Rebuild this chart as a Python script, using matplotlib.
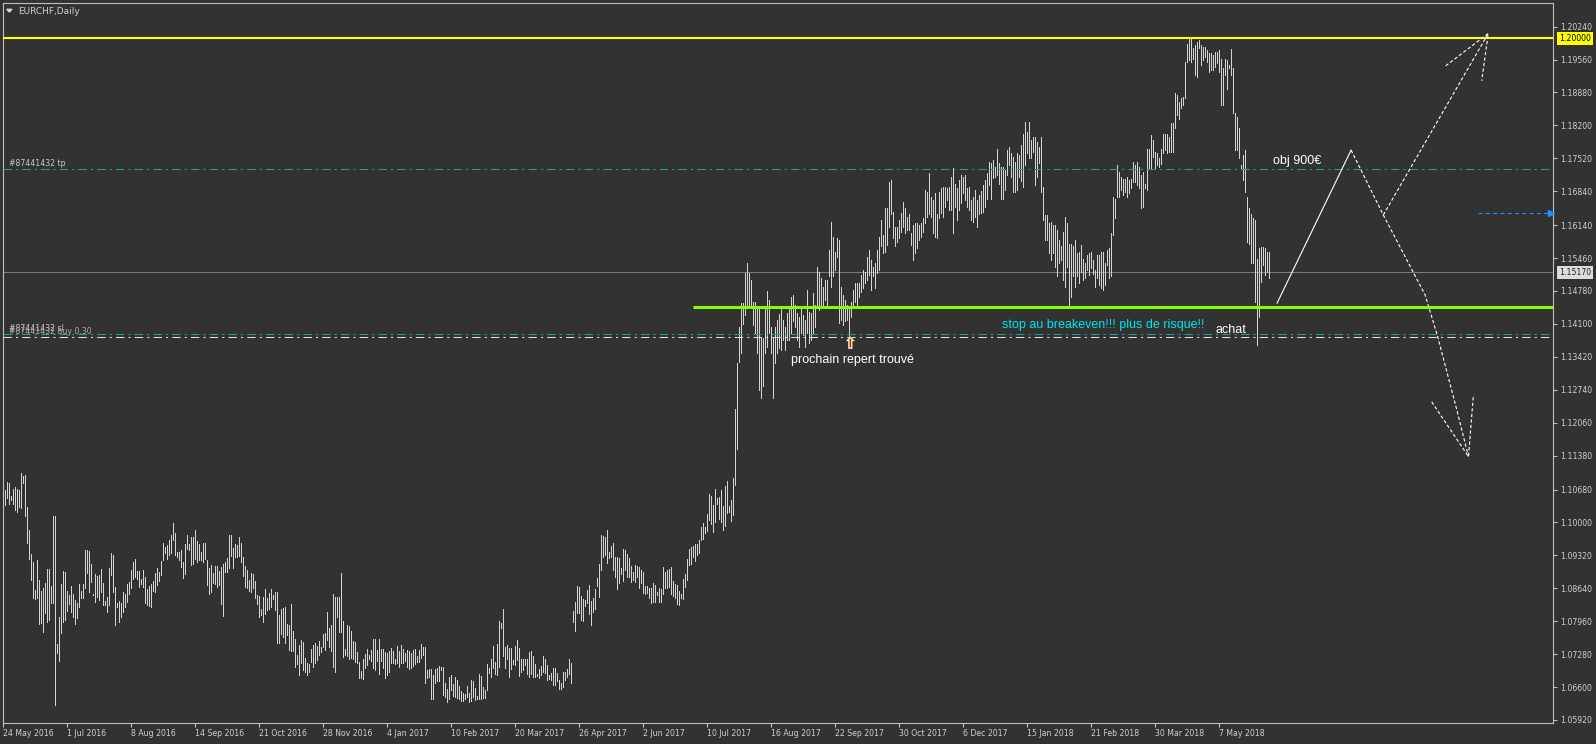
import numpy as np
import matplotlib
matplotlib.use("Agg")
import matplotlib.pyplot as plt
from matplotlib import transforms
from matplotlib.patches import Polygon
import matplotlib.patheffects as pe

plt.rcParams['font.family'] = ['DejaVu Sans']

# EURCHF daily bars, stored as (price - 1) * 10000
high_2016 = [1112,1067,1084,1081,1054,1070,1074,1070,1067,1103,
             1096,1098,1031,984,935,919,860,922,882,858,
             865,874,904,904,869,1013,1013,749,805,873,
             900,897,858,850,869,853,840,833,873,859,
             873,943,943,941,915,853,893,889,891,904,
             874,838,847,906,936,933,867,834,838,833,
             857,853,873,877,902,918,924,900,900,884,
             902,888,862,869,873,880,895,906,898,921,
             957,950,953,964,975,998,979,939,939,944,
             919,955,974,955,970,969,984,962,955,939,
             958,958,922,906,912,896,910,910,900,908,
             914,919,927,974,974,948,955,953,970,958,
             929,911,902,882,895,893,879,851,848,822,
             847,862,843,855,862,851,857,857,809,821,
             824,826,790,788,831,776,759,727,747,757,
             754,721,709,708,738,747,752,745,755,742,
             769,772,816,781,789,852,847,847,847,895,
             796,738,788,786,776,755,754,733,712,694,
             719,728,738,726,736,759,759,736,759,738,
             738,733,731,735,740,735,717,745,735]
low_2016 = [1056,1036,1050,1039,1046,1039,1025,1022,1032,1029,
            1081,1013,958,924,882,843,841,843,790,792,
            774,812,795,798,834,833,622,730,714,771,
            795,798,818,831,816,805,791,802,826,844,
            844,864,896,857,878,850,836,847,840,857,
            829,829,816,829,891,857,788,825,794,804,
            816,826,836,852,864,884,888,884,867,873,
            867,833,829,827,825,859,857,871,880,891,
            922,936,924,933,936,964,933,929,922,907,
            886,893,946,943,912,914,925,919,922,922,
            919,924,871,853,857,875,873,867,871,831,
            807,897,898,906,930,906,929,929,930,919,
            889,867,865,859,857,864,843,831,805,809,
            795,811,820,822,826,841,819,752,752,769,
            764,752,767,736,735,735,702,707,685,710,
            695,692,685,692,712,702,710,716,726,733,
            743,736,757,743,735,702,692,805,774,774,
            723,726,724,719,721,717,712,710,678,678,
            676,699,705,719,714,699,695,714,686,714,
            699,678,685,692,709,710,708,709,702]

high_2017a = [747,738,730,737,734,731,737,739,724,737,
              749,743,743,695,697,697,685,697,700,704,
              701,701,668,656,681,685,666,681,674,663,
              652,647,646,662,647,674,673,659,641,687,
              683,661,654,708,699,719,745,712,749,796,
              793,822,743,747,740,740,716,745,758,740,
              719,719,719,719,732,735,724,708,688,697,
              704,724,718,705,685,690,699,699,690,674,
              668,691,691,697,718,710,817,835,869,867,
              848,842,840,860,871,838,843,862,886,915,
              975,973,970,984,939,951,957,929,928,926,
              906,946,943,934,926,910,898,913,910,908,
              902,897,869,869,864,864,874,871,857,864,
              862,907,898,902,904,907,879,872,871,858,
              853,884,893,924,946,950,952,955,955,964,
              990,998,990,1017,1059,1054,1036,1070,1050,1053,
              1068,1034,1075,1085,1034,1046,1091,1235,1330]
low_2017a = [709,710,714,702,697,700,704,708,712,712,
             721,726,668,678,681,635,635,668,673,673,
             695,644,640,630,635,653,642,639,637,635,
             632,632,636,640,630,632,640,633,635,635,
             635,637,637,653,690,681,699,686,685,702,
             783,724,699,719,681,697,708,706,716,683,
             692,695,706,688,681,688,681,680,683,678,
             685,692,690,674,676,674,664,664,672,657,
             657,661,674,680,688,669,795,776,812,814,
             798,797,828,833,811,788,816,822,869,847,
             902,928,933,917,926,928,902,888,862,874,
             893,880,902,888,888,876,882,878,888,865,
             874,855,853,855,843,834,835,836,850,836,
             836,852,864,864,867,853,849,843,831,829,
             843,842,867,881,912,915,929,921,933,936,
             964,965,979,983,1005,996,981,1001,1039,1008,
             1000,984,992,1019,1021,1003,1015,1077,1151]

high_2017b = [1404,1453,1453,1515,1535,1515,1501,1456,1456,1442,
              1446,1384,1380,1446,1477,1459,1404,1380,1404,1418,
              1430,1446,1418,1404,1432,1442,1466,1470,1449,1432,
              1425,1446,1428,1418,1480,1435,1432,1473,1449,1528,
              1518,1505,1487,1501,1501,1563,1621,1590,1559,1587,
              1583,1487,1470,1459,1449,1446,1456,1480,1494,1494,
              1494,1510,1521,1518,1549,1563,1542,1528,1535,1563,
              1590,1625,1594,1649,1649,1704,1707,1642,1611,1611,
              1625,1640,1662,1649,1631,1638,1597,1614,1618,1618,
              1614,1618,1628,1687,1683,1721,1673,1666,1680,1638,
              1683,1690,1693,1693,1690,1693,1714,1731,1700,1690,
              1707,1717,1714,1717,1690,1693,1666,1673,1687,1666,
              1676,1685,1697,1707,1721,1745,1742,1748,1735,1772,
              1742,1735,1735,1728,1769,1776,1762,1755,1745,1762,
              1759,1780,1803,1828,1807,1828,1790,1797,1797,1786,
              1776,1797,1693,1635,1635,1618,1621,1614,1614,1604,
              1583,1570,1600,1631,1618,1576,1576,1570,1583,1556,
              1559]
low_2017b = [1332,1349,1410,1428,1446,1446,1449,1408,1391,1349,
             1274,1257,1281,1349,1363,1391,1349,1256,1329,1349,
             1360,1356,1377,1356,1377,1377,1391,1415,1404,1377,
             1363,1391,1387,1363,1391,1370,1377,1391,1404,1446,
             1439,1450,1446,1459,1446,1508,1487,1508,1521,1549,
             1411,1418,1408,1415,1418,1384,1425,1446,1456,1446,
             1466,1475,1484,1494,1501,1511,1480,1508,1484,1515,
             1521,1570,1556,1559,1573,1611,1638,1587,1570,1580,
             1587,1600,1611,1597,1604,1604,1573,1542,1556,1566,
             1583,1590,1600,1618,1631,1638,1631,1597,1590,1587,
             1628,1640,1631,1652,1666,1645,1645,1597,1652,1625,
             1645,1659,1680,1666,1652,1645,1625,1621,1631,1611,
             1638,1640,1642,1652,1669,1697,1669,1711,1714,1717,
             1700,1669,1669,1687,1717,1738,1714,1683,1683,1687,
             1714,1705,1693,1738,1762,1752,1752,1766,1697,1714,
             1742,1683,1625,1583,1583,1556,1542,1556,1528,1508,
             1535,1542,1500,1487,1528,1446,1466,1508,1487,1508,
             1494]

high_2018 = [1573,1545,1535,1552,1556,1559,1542,1521,1552,1552,
             1559,1559,1535,1563,1566,1597,1673,1669,1738,1724,
             1714,1710,1710,1714,1707,1710,1745,1738,1745,1735,
             1717,1724,1700,1772,1772,1800,1790,1766,1762,1752,
             1772,1803,1803,1803,1796,1824,1824,1886,1883,1869,
             1876,1879,1951,1989,1999,2003,1979,1986,1993,1996,
             1986,1982,1982,1975,1969,1969,1965,1972,1972,1975,
             1958,1938,1958,1955,1944,1977,1938,1845,1838,1814,
             1738,1759,1769,1673,1649,1638,1628,1624,1545,1566,
             1569,1569,1566,1559,1559]
low_2018 = [1518,1501,1504,1521,1511,1525,1514,1487,1504,1490,
            1484,1480,1490,1532,1504,1508,1594,1628,1673,1673,
            1686,1676,1683,1673,1680,1690,1704,1704,1697,1690,
            1649,1652,1690,1686,1731,1731,1755,1731,1738,1735,
            1741,1762,1769,1762,1766,1766,1766,1814,1841,1834,
            1855,1862,1876,1951,1955,1951,1958,1924,1920,1979,
            1944,1955,1962,1951,1931,1934,1934,1941,1948,1931,
            1862,1862,1924,1896,1938,1924,1845,1769,1769,1752,
            1731,1707,1683,1580,1576,1535,1535,1456,1366,1425,
            1497,1532,1511,1518,1504]

# time scale labels (bar index -> date)
date_ticks = [0, 32, 64, 96, 128, 160, 192, 224, 256, 288,
              320, 352, 384, 416, 448, 480, 512, 544, 576, 608]
date_labels = ['24 May 2016', '1 Jul 2016', '8 Aug 2016', '14 Sep 2016', '21 Oct 2016',
               '28 Nov 2016', '4 Jan 2017', '10 Feb 2017', '20 Mar 2017', '26 Apr 2017',
               '2 Jun 2017', '10 Jul 2017', '16 Aug 2017', '22 Sep 2017', '30 Oct 2017',
               '6 Dec 2017', '15 Jan 2018', '21 Feb 2018', '30 Mar 2018', '7 May 2018']
price_ticks = [1.20240, 1.19560, 1.18880, 1.18200, 1.17520, 1.16840, 1.16140, 1.15460,
               1.14780, 1.14100, 1.13420, 1.12740, 1.12060, 1.11380, 1.10680, 1.10000,
               1.09320, 1.08640, 1.07960, 1.07280, 1.06600, 1.05920]

# chart objects
resistance = 1.20000
last_price = 1.15170
tp_level = 1.1729
sl_level = 1.1389
buy_level = 1.1383
breakeven_level = 1.14456
breakeven_from = 345
alert_level = 1.1640
alert_from, alert_to = 737.4, 773.9

# hand drawn trend lines: (bar, price)
up_leg = [(636.9, 1.1453), (673.9, 1.1769)]
down_leg = [(673.9, 1.1769), (690.0, 1.1635), (710.9, 1.1470), (717.1, 1.1385),
            (726.4, 1.1238), (732.6, 1.1136)]
up_branch = [(690.0, 1.1635), (742.5, 1.2010)]
up_head = [(721.2, 1.1943), (742.5, 1.2010), (739.2, 1.1912)]
down_head = [(714.2, 1.1249), (732.6, 1.1136), (735.0, 1.1261)]

highs = 1 + np.array(high_2016 + high_2017a + high_2017b + high_2018) / 1e4
lows = 1 + np.array(low_2016 + low_2017a + low_2017b + low_2018) / 1e4
n = min(len(highs), len(lows))
highs, lows = highs[:n], lows[:n]
bars = np.arange(n)

bg = '#323232'
fg = '#c8c8c8'
teal = '#2a9a9a'
W, H = 1596, 744

fig = plt.figure(figsize=(W / 100, H / 100), dpi=100, facecolor=bg)
ax = fig.add_axes([2.7 / W, 1 - 723 / H, (1553 - 2.7) / W, (723 - 2.7) / H])
ax.set_facecolor(bg)
ax.set_xlim(-0.3, 774.85)
ax.set_ylim(1.05858, 1.20734)

ax.axhline(last_price, color='#7a7a7a', lw=0.8, zorder=1)
ax.vlines(bars, lows, highs, colors='#d4d4d4', linewidth=0.5, antialiased=False, zorder=2)

ax.axhline(resistance, color='#ffff00', lw=1.5, zorder=3)
ax.axhline(tp_level, color=teal, lw=0.75, ls=(0, (8, 4, 2, 4)), zorder=3)
ax.axhline(sl_level, color=teal, lw=0.75, ls=(0, (8, 4, 2, 4)), zorder=3)
ax.axhline(buy_level, color='#e0e0e0', lw=0.75, ls=(0, (8, 4, 2, 4)), zorder=3)
ax.hlines(breakeven_level, breakeven_from, 774.85, color='#80ff00', lw=2.2, zorder=3)

ax.plot([alert_from, alert_to - 1.5], [alert_level] * 2, color='#1e90ff', lw=0.75,
        ls=(0, (4, 3)), zorder=3)
ax.plot([alert_to], [alert_level], marker='>', ms=4, color='#1e90ff', zorder=3, clip_on=False)

def draw(pts, **kw):
    xs, ys = zip(*pts)
    ax.plot(xs, ys, color='white', lw=0.8, zorder=4, **kw)

draw(up_leg)
for pts in (down_leg, up_branch, up_head, down_head):
    draw(pts, ls=(0, (3, 2)))

# order labels (sl and buy sit on top of each other, as in the terminal)
small = dict(fontsize=5.6, color=fg, ha='left', va='bottom')
ax.annotate('#87441432 tp', (3, tp_level), xytext=(0, 1), textcoords='offset points', **small)
ax.annotate('#87441432 sl', (3, sl_level), xytext=(0, 1), textcoords='offset points', **small)
ax.annotate('#87441432 buy 0.30', (3, buy_level), xytext=(0, 0.5), textcoords='offset points',
            fontsize=5.6, color='#aaaaaa', ha='left', va='bottom')

note = dict(family='Liberation Sans', fontsize=9, ha='left', va='center', zorder=5)
ax.text(634.9, 1.1746, 'obj 900€', color='white', **note)
ax.text(393.9, 1.1335, 'prochain repert trouvé', color='white', **note)
ax.text(499.2, 1.1408, 'stop au breakeven!!! plus de risque!!', color='#00e5ee', **note)
ax.text(606.2, 1.1397, 'achat', color='white', **note)
ax.text(423.5, 1.1384, '\u21e7', fontsize=11, color='white', ha='center', va='top', zorder=5,
        path_effects=[pe.withStroke(linewidth=0.8, foreground='#e0903a')])

# axes styling
for s in ax.spines.values():
    s.set_color('#c0c0c0')
    s.set_linewidth(0.8)

ax.yaxis.tick_right()
ax.set_yticks(price_ticks)
ax.set_yticklabels([f'{v:.5f}' for v in price_ticks])
ax.tick_params(axis='y', colors='#c0c0c0', labelcolor='#d0d0d0', length=3, width=0.8,
               pad=2, labelsize=5.6, direction='out', left=False, labelleft=False)
ax.set_xticks(date_ticks)
ax.set_xticklabels(date_labels, ha='left')
ax.tick_params(axis='x', colors='#c0c0c0', labelcolor='#d0d0d0', length=3, width=0.8,
               pad=1.5, labelsize=5.6, direction='out')

tr = transforms.blended_transform_factory(ax.transAxes, ax.transData)
x_box = (1559 - 2.7) / (1553 - 2.7)
ax.text(x_box, resistance, '1.20000', transform=tr, ha='left', va='center', fontsize=5.6,
        color='black', clip_on=False,
        bbox=dict(boxstyle='square,pad=0.25', fc='#ffff00', ec='none'))
ax.text(x_box, last_price, '1.15170', transform=tr, ha='left', va='center', fontsize=5.6,
        color='#202020', clip_on=False,
        bbox=dict(boxstyle='square,pad=0.25', fc='#dcdcdc', ec='none'))

# symbol header
fig.add_artist(Polygon([(6.7 / W, 1 - 9.3 / H), (12 / W, 1 - 9.3 / H), (9.35 / W, 1 - 12 / H)],
                       closed=True, color='#d8d8d8', transform=fig.transFigure))
fig.text(18 / W, 1 - 11 / H, 'EURCHF,Daily', fontsize=6.5, color='#d0d0d0', ha='left', va='center')

fig.savefig('out.png', dpi=100, facecolor=bg)
